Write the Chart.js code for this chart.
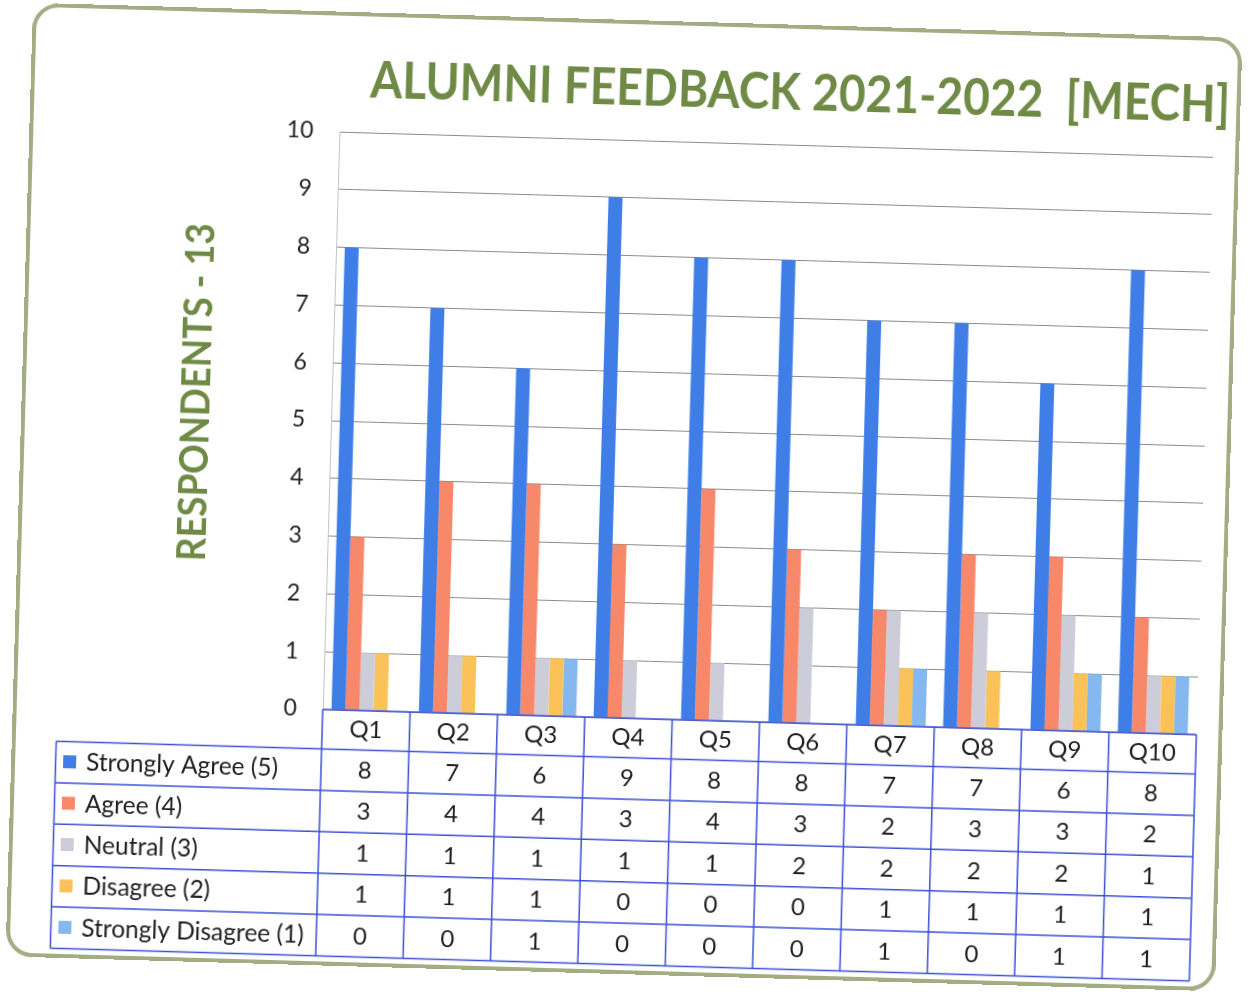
<!DOCTYPE html>
<html><head><meta charset="utf-8">
<script src="https://cdn.jsdelivr.net/npm/chart.js@4.4.1/dist/chart.umd.min.js"></script>
<style>
html,body{margin:0;padding:0;background:#fff;width:1248px;height:993px;overflow:hidden;}
#wrap{position:absolute;left:18.5px;top:20px;width:1210px;height:954px;transform:rotate(1.65deg);transform-origin:50% 50%;}
#frame{position:absolute;left:0;top:0;width:1210px;height:954px;border:4px solid #a3ad84;border-radius:26px;pointer-events:none;box-sizing:border-box;}
canvas{position:absolute;left:0;top:0;}
</style></head>
<body><div id="wrap"><canvas id="c" width="1210" height="954"></canvas><div id="frame"></div></div>
<script>
const categories = ['Q1','Q2','Q3','Q4','Q5','Q6','Q7','Q8','Q9','Q10'];
const seriesNames = ['Strongly Agree (5)','Agree (4)','Neutral (3)','Disagree (2)','Strongly Disagree (1)'];
const stronglyAgree    = [8,7,6,9,8,8,7,7,6,8];
const agree            = [3,4,4,3,4,3,2,3,3,2];
const neutral          = [1,1,1,1,1,2,2,2,2,1];
const disagree         = [1,1,1,0,0,0,1,1,1,1];
const stronglyDisagree = [0,0,1,0,0,0,1,0,1,1];
const yTicks = [0,1,2,3,4,5,6,7,8,9,10];
const chartTitle = 'ALUMNI FEEDBACK 2021-2022  [MECH]';
const yAxisTitle = 'RESPONDENTS - 13';
const seriesColors = ['#3f7ee6','#f7886a','#cdcdda','#fbc25a','#86b8f0'];

const seriesValues = [stronglyAgree, agree, neutral, disagree, stronglyDisagree];
const GREEN = '#6f8a45';
const TABLE_LINE = '#3d50d6';

function fitText(ctx, text, x, y, maxW) {
  const w = ctx.measureText(text).width;
  const s = Math.min(1, maxW / w);
  ctx.save();
  ctx.translate(x, y);
  ctx.scale(s, 1);
  ctx.fillText(text, 0, 0);
  ctx.restore();
}

const decor = {
  id: 'decor',
  afterDraw(chart) {
    const ctx = chart.ctx;
    const ca = chart.chartArea;
    const xs = chart.scales.x;
    const n = categories.length;
    const colW = (ca.right - ca.left) / n;
    const headerH = 39.5, rowH = 41.4, legendLeft = 44.5;
    const tTop = ca.bottom, hBot = tTop + headerH, tBot = hBot + rowH * seriesNames.length;

    ctx.save();
    // Title
    ctx.fillStyle = GREEN;
    ctx.font = 'bold 52px Lato';
    ctx.textAlign = 'center';
    ctx.textBaseline = 'middle';
    fitText(ctx, chartTitle, 769.5, 68, 860);
    // Y axis title
    ctx.save();
    ctx.translate(175.5, 384.5);
    ctx.rotate(-Math.PI / 2);
    ctx.font = 'bold 40px Lato';
    fitText(ctx, yAxisTitle, 0, 0, 338);
    ctx.restore();

    // Table lines
    ctx.strokeStyle = TABLE_LINE;
    ctx.lineWidth = 1.5;
    ctx.beginPath();
    ctx.moveTo(ca.left, tTop); ctx.lineTo(ca.right, tTop);
    for (let r = 0; r <= seriesNames.length; r++) {
      const y = hBot + r * rowH;
      ctx.moveTo(legendLeft, y); ctx.lineTo(ca.right, y);
    }
    ctx.moveTo(legendLeft, hBot); ctx.lineTo(legendLeft, tBot);
    for (let i = 0; i <= n; i++) {
      const x = (i < n ? xs.getPixelForValue(i) : xs.getPixelForValue(n - 1) + colW) - colW / 2;
      ctx.moveTo(x, tTop); ctx.lineTo(x, tBot);
    }
    ctx.stroke();

    // Table text
    ctx.fillStyle = '#1e1e1e';
    ctx.font = '24px Lato';
    ctx.textAlign = 'center';
    ctx.textBaseline = 'middle';
    categories.forEach((c, i) => {
      const cx = xs.getPixelForValue(i);
      ctx.fillText(c, cx, tTop + headerH / 2);
      seriesValues.forEach((vals, r) => {
        ctx.fillText(String(vals[i]), cx, hBot + r * rowH + rowH / 2);
      });
    });
    ctx.textAlign = 'left';
    ctx.font = '24.5px Lato';
    seriesNames.forEach((name, r) => {
      const cy = hBot + r * rowH + rowH / 2;
      ctx.fillStyle = seriesColors[r];
      ctx.fillRect(52, cy - 7, 13, 13);
      ctx.fillStyle = '#1e1e1e';
      ctx.fillText(name, 75, cy);
    });
    ctx.restore();
  }
};

new Chart(document.getElementById('c'), {
  type: 'bar',
  data: {
    labels: categories,
    datasets: seriesNames.map((name, i) => ({
      label: name,
      data: seriesValues[i],
      backgroundColor: seriesColors[i],
      borderWidth: 0,
      categoryPercentage: 0.8,
      barPercentage: 1.0
    }))
  },
  options: {
    responsive: false,
    animation: false,
    devicePixelRatio: 1,
    layout: { padding: { left: 0, top: 120, right: 26, bottom: 256 } },
    plugins: { legend: { display: false }, tooltip: { enabled: false }, title: { display: false } },
    scales: {
      x: { display: false, grid: { display: false } },
      y: {
        min: 0, max: 10,
        afterFit(s) { s.width = 310; },
        afterBuildTicks(s) { s.ticks = yTicks.map(v => ({ value: v })); },
        ticks: { padding: 26, color: '#222', font: { family: 'Lato', size: 23 } },
        grid: { color: '#8c8c8c', lineWidth: 1, drawTicks: false },
        border: { display: true, color: '#c4c4c4' }
      }
    }
  },
  plugins: [decor]
});
</script>
</body></html>
